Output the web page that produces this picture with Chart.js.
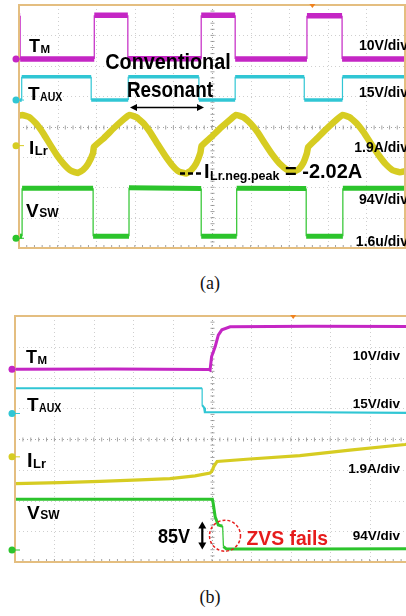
<!DOCTYPE html>
<html>
<head>
<meta charset="utf-8">
<script src="https://cdn.jsdelivr.net/npm/chart.js@4.4.1/dist/chart.umd.min.js"></script>
<style>
html, body { margin: 0; padding: 0; background: #fff; overflow: hidden; }
body { position: relative; width: 406px; height: 616px; }
#boxA { position: absolute; left: 0; top: 0; }
#boxB { position: absolute; left: 0; top: 310px; }
.cap { position: absolute; width: 60px; left: 180px; text-align: center;
       font: 18px/18px "Liberation Serif", "Times New Roman", serif; color: #111; }
</style>
</head>
<body>
<div id="boxA"><canvas id="chartA" width="410" height="256"></canvas></div>
<div id="boxB"><canvas id="chartB" width="410" height="260"></canvas></div>
<div class="cap" style="top:274px">(a)</div>
<div class="cap" style="top:588px">(b)</div>
<script>
// scope traces, x in divisions (1.6us/div), y in divisions from screen centre

// (a) conventional resonant
const aTmX = [0, 0.03, 0.03, 1.95, 1.95, 2.82, 2.82, 4.72, 4.72, 5.60, 5.60, 7.46, 7.46, 8.37, 8.37, 10];
const aTmY = [3.65, 3.65, 2.22, 2.22, 3.66, 3.66, 2.23, 2.23, 3.66, 3.66, 2.22, 2.22, 3.65, 3.65, 2.22, 2.22];

const aTauxX = [0, 0.07, 0.07, 1.87, 1.87, 2.83, 2.83, 4.66, 4.66, 5.60, 5.60, 7.39, 7.39, 8.38, 8.38, 10];
const aTauxY = [0.87, 0.87, 1.64, 1.64, 0.87, 0.87, 1.64, 1.64, 0.87, 0.87, 1.64, 1.64, 0.87, 0.87, 1.64, 1.64];

const aIlrX = [0, 0.08, 0.26, 0.44, 0.62, 0.80, 0.98, 1.17, 1.35, 1.53, 1.66, 1.79, 1.92, 1.94, 2.20, 2.46, 2.72, 2.86,
  3.04, 3.23, 3.41, 3.59, 3.78, 3.96, 4.14, 4.33, 4.46, 4.59, 4.70, 4.73, 4.97, 5.23, 5.49, 5.62,
  5.81, 6.00, 6.19, 6.37, 6.56, 6.75, 6.94, 7.12, 7.25, 7.36, 7.46, 7.49, 7.72, 7.98, 8.24, 8.38,
  8.56, 8.75, 8.94, 9.12, 9.31, 9.50, 9.68, 9.87, 10];
const aIlrY = [0.36, 0.38, 0.31, 0.10, -0.21, -0.58, -0.94, -1.25, -1.46, -1.53, -1.43, -1.23, -0.87, -0.67, -0.38, -0.05, 0.25, 0.38,
  0.31, 0.10, -0.21, -0.58, -0.95, -1.26, -1.48, -1.55, -1.44, -1.22, -0.86, -0.64, -0.36, -0.04, 0.25, 0.38,
  0.31, 0.10, -0.20, -0.56, -0.92, -1.22, -1.42, -1.49, -1.40, -1.21, -0.87, -0.68, -0.39, -0.06, 0.24, 0.38,
  0.31, 0.10, -0.21, -0.57, -0.93, -1.24, -1.44, -1.51, -1.47];

const aVswX = [0, 0.08, 0.08, 1.92, 1.92, 2.85, 2.85, 4.72, 4.72, 5.64, 5.64, 7.44, 7.44, 8.39, 8.39, 10];
const aVswY = [-3.61, -3.61, -2.03, -2.03, -3.61, -3.61, -2.02, -2.04, -3.61, -3.61, -2.03, -2.04, -3.61, -3.61, -2.03, -2.03];

// (b) ZVS fails
const bTmX = [0, 2.5, 4.92, 4.95, 4.99, 5.08, 5.16, 5.25, 5.46, 7.5, 10];
const bTmY = [2.27, 2.28, 2.26, 2.24, 2.68, 3.00, 3.38, 3.55, 3.65, 3.67, 3.66];

const bTauxX = [0, 2.5, 4.75, 4.75, 4.80, 4.82, 7.5, 10];
const bTauxY = [1.65, 1.65, 1.65, 1.10, 1.02, 0.87, 0.87, 0.85];

const bIlrX = [0, 1.14, 2.16, 3.17, 3.93, 4.57, 4.95, 5.00, 5.05, 5.13, 5.96, 7.23, 8.50, 9.90, 10];
const bIlrY = [-1.45, -1.42, -1.38, -1.33, -1.29, -1.20, -1.11, -1.04, -0.88, -0.73, -0.65, -0.54, -0.36, -0.18, -0.16];

const bVswX = [0, 2.5, 5.01, 5.03, 5.08, 5.16, 5.25, 5.27, 5.29, 5.37, 7.5, 10];
const bVswY = [-1.96, -1.96, -1.96, -2.09, -2.53, -2.80, -2.83, -2.83, -3.50, -3.58, -3.58, -3.57];

// ground markers on the left edge and the trigger mark on top
const aGround = [2.22, 0.87, -0.63, -3.68];
const bGround = [2.27, 0.83, -0.58, -3.61];
const aTrigger = 7.6;
const bTrigger = 7.06;

const MAG = 'rgb(196,38,196)';
const CYA = 'rgb(48,198,212)';
const YEL = 'rgb(214,204,34)';
const GRN = 'rgb(44,196,44)';
const chColors = [MAG, CYA, YEL, GRN];
const FONT = '"Liberation Sans", Arial, sans-serif';

function pts(xs, ys) {
  return xs.map((x, i) => ({ x: x, y: ys[i] }));
}

// thin vertical edges, the noise band only shows on the flat parts
function steep(ctx) {
  const dx = Math.abs(ctx.p1.parsed.x - ctx.p0.parsed.x);
  const dy = Math.abs(ctx.p1.parsed.y - ctx.p0.parsed.y);
  return dx < 0.001 || dy / dx > 20;
}

function trace(xs, ys, color, width, tension) {
  return {
    data: pts(xs, ys),
    borderColor: color,
    borderWidth: width,
    tension: tension || 0,
    pointRadius: 0,
    segment: { borderWidth: c => steep(c) ? 1.2 : undefined }
  };
}

function txt(ctx, s, x, y, size, o) {
  o = o || {};
  ctx.save();
  ctx.font = 'bold ' + size + 'px ' + FONT;
  ctx.fillStyle = o.color || '#000';
  ctx.textBaseline = 'alphabetic';
  ctx.textAlign = o.align || 'left';
  const sx = o.sx || 1;
  ctx.translate(x, y);
  ctx.scale(sx, 1);
  ctx.fillText(s, 0, 0);
  const w = ctx.measureText(s).width * sx;
  ctx.restore();
  return w;
}

function sub(ctx, main, s, x, y, size, subSize, subSx) {
  const w = txt(ctx, main, x, y, size);
  txt(ctx, s, x + w + 0.5, y + 0.5, subSize, { sx: subSx || 1 });
}

function arrowHead(ctx, x, y, ang, len, wid) {
  ctx.save();
  ctx.translate(x, y);
  ctx.rotate(ang);
  ctx.beginPath();
  ctx.moveTo(0, 0);
  ctx.lineTo(-len, -wid);
  ctx.lineTo(-len, wid);
  ctx.closePath();
  ctx.fill();
  ctx.restore();
}

const scopePlugin = {
  id: 'scope',
  beforeDatasetsDraw(chart, args, opts) {
    const { ctx, chartArea: a, scales: { x, y } } = chart;
    ctx.save();
    ctx.lineWidth = 1;
    ctx.setLineDash([1, 3]);
    for (let i = 1; i < 10; i++) {
      const px = Math.round(x.getPixelForValue(i)) + 0.5;
      ctx.strokeStyle = i === 5 ? 'rgba(140,140,140,0.8)' : 'rgba(160,160,160,0.5)';
      ctx.beginPath(); ctx.moveTo(px, a.top); ctx.lineTo(px, a.bottom); ctx.stroke();
    }
    for (let j = -3; j <= 3; j++) {
      const py = Math.round(y.getPixelForValue(j)) + 0.5;
      ctx.strokeStyle = j === 0 ? 'rgba(140,140,140,0.8)' : 'rgba(160,160,160,0.5)';
      ctx.beginPath(); ctx.moveTo(a.left, py); ctx.lineTo(a.right, py); ctx.stroke();
    }
    // minor ticks on the centre cross
    ctx.setLineDash([]);
    ctx.strokeStyle = 'rgba(140,140,140,0.8)';
    const cx = Math.round(x.getPixelForValue(5)) + 0.5;
    const cy = Math.round(y.getPixelForValue(0)) + 0.5;
    for (let t = 0.2; t < 10; t += 0.2) {
      const px = x.getPixelForValue(t);
      ctx.beginPath(); ctx.moveTo(px, cy - 2); ctx.lineTo(px, cy + 2); ctx.stroke();
      ctx.beginPath(); ctx.moveTo(px, a.bottom); ctx.lineTo(px, a.bottom - 3); ctx.stroke();
    }
    for (let t = -3.8; t < 4; t += 0.2) {
      const py = y.getPixelForValue(t);
      ctx.beginPath(); ctx.moveTo(cx - 2, py); ctx.lineTo(cx + 2, py); ctx.stroke();
    }
    ctx.restore();
  },
  afterDraw(chart, args, opts) {
    const { ctx, chartArea: a, scales: { x, y } } = chart;
    ctx.save();
    // frame
    ctx.strokeStyle = 'rgb(228,190,128)';
    ctx.lineWidth = 2;
    ctx.strokeRect(a.left, a.top, a.right - a.left, a.bottom - a.top);
    // channel ground markers
    opts.ground.forEach((g, i) => {
      const py = y.getPixelForValue(g);
      ctx.fillStyle = chColors[i];
      ctx.beginPath(); ctx.arc(a.left - 3, py, 3.5, 0, Math.PI * 2); ctx.fill();
      ctx.strokeStyle = chColors[i];
      ctx.lineWidth = 1;
      ctx.beginPath(); ctx.moveTo(a.left, py); ctx.lineTo(a.left + 5, py); ctx.stroke();
    });
    // trigger mark
    const tx = x.getPixelForValue(opts.trigger);
    ctx.fillStyle = 'rgb(240,130,30)';
    ctx.beginPath(); ctx.moveTo(tx - 3, a.top - 1); ctx.lineTo(tx + 3, a.top - 1); ctx.lineTo(tx, a.top + 3); ctx.closePath(); ctx.fill();
    ctx.restore();
    opts.labels(ctx);
  }
};

function labelsA(ctx) {
  sub(ctx, 'T', 'M', 29, 52, 18, 11.5);
  sub(ctx, 'T', 'AUX', 28, 100, 19, 12, 0.88);
  sub(ctx, 'I', 'Lr', 29, 154, 19, 13);
  sub(ctx, 'V', 'SW', 26, 216.5, 19, 12);
  txt(ctx, 'Conventional', 168, 68.5, 22, { align: 'center', sx: 0.9 });
  txt(ctx, 'Resonant', 170, 96.5, 22, { align: 'center', sx: 0.86 });
  ['10V/div', '15V/div', '1.9A/div', '94V/div', '1.6u/div'].forEach((s, i) => {
    txt(ctx, s, 408, [50, 96.5, 151.5, 204, 245.5][i], 14, { align: 'right' });
  });
  // double arrow under "Resonant"
  ctx.save();
  ctx.strokeStyle = '#000'; ctx.fillStyle = '#000'; ctx.lineWidth = 1.6;
  ctx.beginPath(); ctx.moveTo(134, 107.5); ctx.lineTo(200, 107.5); ctx.stroke();
  arrowHead(ctx, 130, 107.5, Math.PI, 7, 3.5);
  arrowHead(ctx, 204, 107.5, 0, 7, 3.5);
  // dashed marker at the negative peak
  ctx.lineWidth = 2.5;
  ctx.setLineDash([5, 3]);
  ctx.beginPath(); ctx.moveTo(180, 173.5); ctx.lineTo(203, 173.5); ctx.stroke();
  ctx.restore();
  txt(ctx, 'I', 204, 178, 20);
  txt(ctx, 'Lr.neg.peak', 210, 179.5, 12.5);
  txt(ctx, '= -2.02A', 285, 178, 20);
}

function labelsB(ctx) {
  sub(ctx, 'T', 'M', 26, 53, 18, 11.5);
  sub(ctx, 'T', 'AUX', 27, 101, 19, 12, 0.88);
  sub(ctx, 'I', 'Lr', 27, 157, 20, 13);
  sub(ctx, 'V', 'SW', 27, 208.5, 19, 12);
  ['10V/div', '15V/div', '1.9A/div', '94V/div'].forEach((s, i) => {
    txt(ctx, s, 400, [50, 98.3, 163, 230][i], 13.5, { align: 'right' });
  });
  txt(ctx, '85V', 158, 233, 20, { sx: 0.9 });
  ctx.save();
  ctx.strokeStyle = '#000'; ctx.fillStyle = '#000'; ctx.lineWidth = 2.2;
  ctx.beginPath(); ctx.moveTo(202.3, 217); ctx.lineTo(202.3, 234); ctx.stroke();
  arrowHead(ctx, 202.3, 211.5, -Math.PI / 2, 7, 4);
  arrowHead(ctx, 202.3, 239.5, Math.PI / 2, 7, 4);
  ctx.strokeStyle = 'rgb(232,32,32)';
  ctx.lineWidth = 1.5;
  ctx.setLineDash([3, 2]);
  ctx.beginPath(); ctx.arc(225, 225.7, 15.5, 0, Math.PI * 2); ctx.stroke();
  ctx.restore();
  txt(ctx, 'ZVS fails', 246.5, 235, 21, { sx: 0.92, color: 'rgb(230,28,28)' });
}

function makeScope(id, datasets, pad, opts) {
  return new Chart(document.getElementById(id), {
    type: 'line',
    data: { datasets: datasets },
    options: {
      responsive: false,
      animation: false,
      devicePixelRatio: 1,
      layout: { padding: pad },
      scales: {
        x: { type: 'linear', min: 0, max: 10, display: false },
        y: { type: 'linear', min: -4, max: 4, display: false }
      },
      plugins: {
        legend: { display: false },
        tooltip: { enabled: false },
        scope: opts
      }
    },
    plugins: [scopePlugin]
  });
}

makeScope('chartA', [
  trace(aTmX, aTmY, MAG, 5.5),
  trace(aTauxX, aTauxY, CYA, 3.5),
  trace(aIlrX, aIlrY, YEL, 6.5, 0.1),
  trace(aVswX, aVswY, GRN, 5)
], { left: 19, right: 5, top: 5, bottom: 8 }, { ground: aGround, trigger: aTrigger, labels: labelsA });

makeScope('chartB', [
  trace(bTmX, bTmY, MAG, 3),
  trace(bTauxX, bTauxY, CYA, 2.2),
  trace(bIlrX, bIlrY, YEL, 3.2),
  trace(bVswX, bVswY, GRN, 3)
], { left: 15, right: 1, top: 6, bottom: 8 }, { ground: bGround, trigger: bTrigger, labels: labelsB });
</script>
</body>
</html>
